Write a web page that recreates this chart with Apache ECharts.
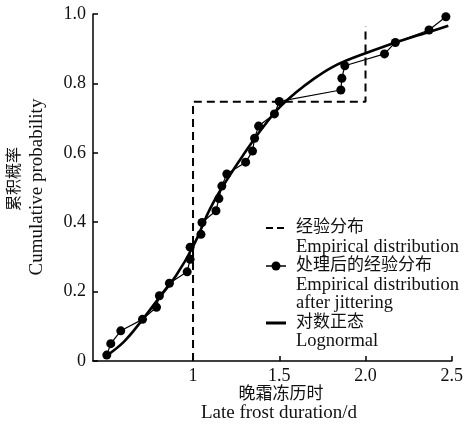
<!DOCTYPE html>
<html>
<head>
<meta charset="utf-8">
<script src="https://cdn.jsdelivr.net/npm/echarts@6/dist/echarts.min.js"></script>
<style>html,body{margin:0;padding:0;background:#fff}#c{width:466px;height:425px}</style>
</head>
<body>
<div id="c"></div>
<script>
// Empirical distribution (step)
var empX = [1, 1, 2, 2];
var empY = [0, 0.747, 0.747, 0.965];
// Empirical distribution after jittering
var jitX = [0.500, 0.523, 0.581, 0.707, 0.788, 0.805, 0.863, 0.966, 0.983, 0.983, 1.046, 1.052, 1.133, 1.150, 1.167, 1.196, 1.305, 1.345, 1.357, 1.380, 1.472, 1.500, 1.857, 1.863, 1.880, 2.110, 2.173, 2.368, 2.466];
var jitY = [0.017, 0.050, 0.087, 0.120, 0.155, 0.188, 0.224, 0.257, 0.293, 0.328, 0.365, 0.399, 0.433, 0.468, 0.504, 0.539, 0.573, 0.605, 0.642, 0.677, 0.712, 0.748, 0.781, 0.815, 0.851, 0.885, 0.918, 0.954, 0.992];
// Lognormal fit
var logX = [0.495, 0.6, 0.7, 0.8, 0.9, 1.0, 1.1, 1.2, 1.3, 1.4, 1.5, 1.6, 1.7, 1.8, 1.9, 2.0, 2.1, 2.2, 2.3, 2.4, 2.48];
var logY = [0.014, 0.056, 0.115, 0.18, 0.245, 0.33, 0.44, 0.525, 0.6, 0.67, 0.73, 0.775, 0.813, 0.845, 0.868, 0.887, 0.905, 0.922, 0.938, 0.953, 0.966];
// Ticks
var xTicks = [1, 1.5, 2, 2.5];
var xTickLabels = ['1', '1.5', '2.0', '2.5'];
var yTickLabels = ['0', '0.2', '0.4', '0.6', '0.8', '1.0'];

function zip(a, b) { return a.map(function (v, i) { return [v, b[i]]; }); }

var SERIF = '"Liberation Serif", "Times New Roman", "Noto Sans CJK SC", serif';
var chart = echarts.init(document.getElementById('c'), null, {renderer: 'canvas'});

var g = [];
var lx = 296, fs = 18;
var rows = [
  ['经验分布', 228, 17], ['Empirical distribution', 247, 18.5],
  ['处理后的经验分布', 266, 17], ['Empirical distribution', 285, 18.5], ['after jittering', 303, 18.5],
  ['对数正态', 323, 17], ['Lognormal', 341, 18.5]
];
rows.forEach(function (r) {
  g.push({
    type: 'text', x: lx, y: r[1],
    style: {text: r[0], font: r[2] + 'px ' + SERIF, fill: '#111', textVerticalAlign: 'middle', textAlign: 'left'}
  });
});
g.push({type: 'line', shape: {x1: 266, y1: 228, x2: 286, y2: 228},
  style: {stroke: '#000', lineWidth: 2, lineDash: [7, 4]}});
g.push({type: 'line', shape: {x1: 266, y1: 266, x2: 286, y2: 266},
  style: {stroke: '#000', lineWidth: 1.5}});
g.push({type: 'circle', shape: {cx: 276, cy: 266, r: 4.5}, style: {fill: '#000'}});
g.push({type: 'line', shape: {x1: 266, y1: 323, x2: 286, y2: 323},
  style: {stroke: '#000', lineWidth: 3}});
// y axis title (two lines)
g.push({type: 'text', x: 15, y: 179, rotation: Math.PI / 2,
  style: {text: '累积概率', font: '16px ' + SERIF, fill: '#111', textAlign: 'center', textVerticalAlign: 'middle'}});
g.push({type: 'text', x: 37, y: 187, rotation: Math.PI / 2,
  style: {text: 'Cumulative probability', font: '19px ' + SERIF, fill: '#111', textAlign: 'center', textVerticalAlign: 'middle'}});
// x axis title (two lines)
g.push({type: 'text', x: 281, y: 395,
  style: {text: '晚霜冻历时', font: '17px ' + SERIF, fill: '#111', textAlign: 'center', textVerticalAlign: 'middle'}});
g.push({type: 'text', x: 279, y: 413,
  style: {text: 'Late frost duration/d', font: '19px ' + SERIF, fill: '#111', textAlign: 'center', textVerticalAlign: 'middle'}});

chart.setOption({
  animation: false,
  backgroundColor: '#fff',
  grid: {left: 93, right: 12, top: 14, bottom: 64},
  xAxis: {
    type: 'value', min: 0.42, max: 2.5,
    axisLine: {lineStyle: {color: '#000', width: 1.5}},
    axisTick: {inside: true, length: 5, customValues: xTicks, lineStyle: {color: '#000', width: 1.5}},
    axisLabel: {customValues: xTicks, margin: 6, fontFamily: SERIF, fontSize: 18, color: '#111',
      formatter: function (v) { var i = xTicks.indexOf(v); return i >= 0 ? xTickLabels[i] : ''; }},
    splitLine: {show: false}
  },
  yAxis: {
    type: 'value', min: 0, max: 1, interval: 0.2,
    axisLine: {show: true, lineStyle: {color: '#000', width: 1.5}},
    axisTick: {show: true, inside: true, length: 5, lineStyle: {color: '#000', width: 1.5}},
    axisLabel: {margin: 7, fontFamily: SERIF, fontSize: 18, color: '#111',
      formatter: function (v) { return yTickLabels[Math.round(v * 5)]; }},
    splitLine: {show: false}
  },
  graphic: g,
  series: [
    {name: '经验分布 Empirical distribution', type: 'line', data: zip(empX, empY), symbol: 'none',
      lineStyle: {color: '#000', width: 2, type: [8, 5]}, z: 2},
    {name: '处理后的经验分布 Empirical distribution after jittering', type: 'line', data: zip(jitX, jitY),
      symbol: 'circle', symbolSize: 9, itemStyle: {color: '#000'},
      lineStyle: {color: '#000', width: 1.2}, z: 3},
    {name: '对数正态 Lognormal', type: 'line', data: zip(logX, logY), symbol: 'none', smooth: 0.4,
      lineStyle: {color: '#000', width: 2.6}, z: 4}
  ]
});
</script>
</body>
</html>
